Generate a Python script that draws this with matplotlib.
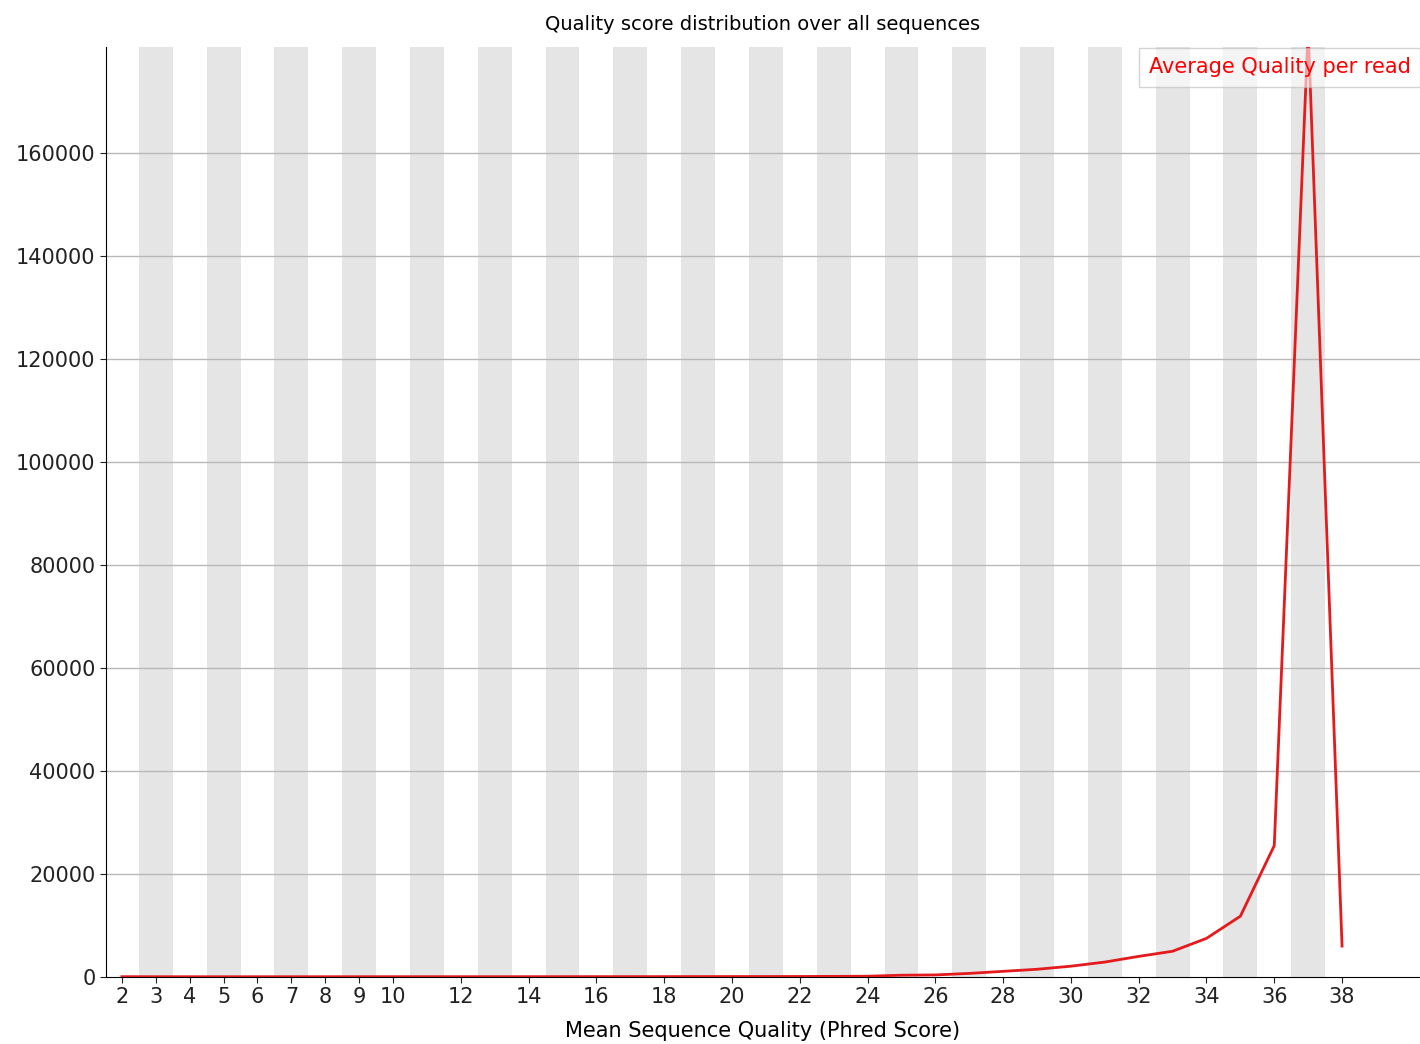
import numpy as np
import matplotlib
matplotlib.use('Agg')
from matplotlib import pyplot as plt

quality = list(range(2, 39))
counts = [60, 55, 50, 50, 50, 50, 55, 55, 60, 60, 60, 60, 65, 65, 70, 70, 75, 80, 85, 90, 100, 120,
          150, 350, 400, 700, 1100, 1500, 2100, 2900, 4000, 5000, 7500, 11800, 25500, 184000, 6000]
tick_vals = [2, 3, 4, 5, 6, 7, 8, 9, 10, 12, 14, 16, 18, 20, 22, 24, 26, 28, 30, 32, 34, 36, 38]

fig = plt.figure(figsize=(14.2, 10.44), dpi=100)
ax = fig.add_axes([106/1420, 1-977/1044, (1420-106)/1420, (977-47)/1044])

xmin, xmax = 1.53, 40.3
for c in range(3, 39, 2):
    ax.axvspan(c-0.5, c+0.5, color='#e5e5e5', lw=0, zorder=0)
for y in range(20000, 180000, 20000):
    ax.axhline(y, color='#b8b8b8', lw=1, zorder=1)

ax.plot(quality, counts, color='#e41a1c', lw=2, label='Average Quality per read', zorder=3)

ax.set_xlim(xmin, xmax)
ax.set_ylim(0, 180500)
ax.set_xticks(tick_vals)
ax.set_yticks(range(0, 180000, 20000))
ax.tick_params(labelsize=15, length=4, colors='#222222')
for s in ['top', 'right']:
    ax.spines[s].set_visible(False)
ax.set_xlabel('Mean Sequence Quality (Phred Score)', fontsize=15, labelpad=10)
ax.set_title('Quality score distribution over all sequences', fontsize=14, pad=12)

leg = ax.legend(loc='upper right', fontsize=15, handlelength=0, handletextpad=0,
                fancybox=False, borderaxespad=0, borderpad=0.45, framealpha=0.6,
                edgecolor='#b8b8b8', bbox_to_anchor=(1.0, 0.999))
for t in leg.get_texts():
    t.set_color('red')
for h in leg.legend_handles:
    h.set_visible(False)

fig.savefig('out.png', dpi=100)
